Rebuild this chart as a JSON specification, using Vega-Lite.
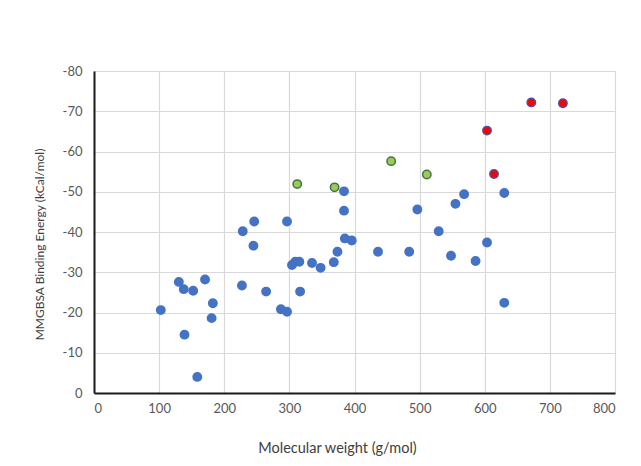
{
  "$schema": "https://vega.github.io/schema/vega-lite/v6.json",
  "width": 521,
  "height": 322,
  "autosize": {"type": "none"},
  "padding": {"left": 94, "top": 71, "right": 26, "bottom": 73},
  "background": "white",
  "config": {
    "font": "Lato",
    "view": {"stroke": "#d9d9d9", "strokeWidth": 1},
    "axis": {"gridColor": "#d9d9d9", "gridWidth": 1.2, "ticks": false, "labelColor": "#595959", "titleColor": "#404040", "labelFont": "Lato", "titleFont": "Lato", "labelFontSize": 13, "titleFontSize": 14.5, "titleFontWeight": "normal"}
  },
  "data": {
    "values": [
      {"mw": 102.6, "energy": -20.6, "group": "other"},
      {"mw": 130.3, "energy": -27.6, "group": "other"},
      {"mw": 137.8, "energy": -25.8, "group": "other"},
      {"mw": 152.3, "energy": -25.4, "group": "other"},
      {"mw": 139.0, "energy": -14.5, "group": "other"},
      {"mw": 170.5, "energy": -28.2, "group": "other"},
      {"mw": 182.5, "energy": -22.3, "group": "other"},
      {"mw": 180.6, "energy": -18.6, "group": "other"},
      {"mw": 158.6, "energy": -4.0, "group": "other"},
      {"mw": 228.4, "energy": -40.2, "group": "other"},
      {"mw": 246.0, "energy": -42.6, "group": "other"},
      {"mw": 244.8, "energy": -36.6, "group": "other"},
      {"mw": 227.2, "energy": -26.7, "group": "other"},
      {"mw": 264.3, "energy": -25.2, "group": "other"},
      {"mw": 296.4, "energy": -42.6, "group": "other"},
      {"mw": 287.0, "energy": -20.8, "group": "other"},
      {"mw": 296.4, "energy": -20.2, "group": "other"},
      {"mw": 304.0, "energy": -31.8, "group": "other"},
      {"mw": 309.0, "energy": -32.6, "group": "other"},
      {"mw": 315.3, "energy": -32.6, "group": "other"},
      {"mw": 316.5, "energy": -25.2, "group": "other"},
      {"mw": 334.8, "energy": -32.3, "group": "other"},
      {"mw": 348.0, "energy": -31.1, "group": "other"},
      {"mw": 368.2, "energy": -32.5, "group": "other"},
      {"mw": 373.8, "energy": -35.1, "group": "other"},
      {"mw": 383.9, "energy": -50.1, "group": "other"},
      {"mw": 383.9, "energy": -45.3, "group": "other"},
      {"mw": 385.2, "energy": -38.4, "group": "other"},
      {"mw": 395.8, "energy": -37.9, "group": "other"},
      {"mw": 436.1, "energy": -35.1, "group": "other"},
      {"mw": 484.0, "energy": -35.1, "group": "other"},
      {"mw": 496.5, "energy": -45.6, "group": "other"},
      {"mw": 529.3, "energy": -40.2, "group": "other"},
      {"mw": 548.2, "energy": -34.1, "group": "other"},
      {"mw": 555.0, "energy": -47.0, "group": "other"},
      {"mw": 568.3, "energy": -49.4, "group": "other"},
      {"mw": 585.9, "energy": -32.8, "group": "other"},
      {"mw": 603.5, "energy": -37.4, "group": "other"},
      {"mw": 630.0, "energy": -49.7, "group": "other"},
      {"mw": 630.0, "energy": -22.4, "group": "other"},
      {"mw": 312.1, "energy": -51.9, "group": "green"},
      {"mw": 369.4, "energy": -51.1, "group": "green"},
      {"mw": 456.3, "energy": -57.6, "group": "green"},
      {"mw": 511.0, "energy": -54.3, "group": "green"},
      {"mw": 603.5, "energy": -65.2, "group": "red"},
      {"mw": 614.2, "energy": -54.4, "group": "red"},
      {"mw": 671.5, "energy": -72.2, "group": "red"},
      {"mw": 720.0, "energy": -72.0, "group": "red"}
    ]
  },
  "mark": {"type": "point", "filled": true, "opacity": 1, "size": 70, "strokeWidth": 1.5},
  "encoding": {
    "x": {
      "field": "mw", "type": "quantitative",
      "scale": {"domain": [0, 800], "nice": false, "zero": false},
      "axis": {"values": [0,100,200,300,400,500,600,700,800], "title": "Molecular weight (g/mol)", "domain": true, "domainColor": "#1a1a1a", "domainWidth": 2, "labelPadding": 9, "titleX": 243, "titleY": 55, "titleBaseline": "middle", "titleAnchor": "middle", "titleAlign": "center"}
    },
    "y": {
      "field": "energy", "type": "quantitative",
      "scale": {"domain": [0, -80], "nice": false, "zero": false},
      "axis": {"values": [0,-10,-20,-30,-40,-50,-60,-70,-80], "labelExpr": "'' + datum.value", "title": "MMGBSA Binding Energy (kCal/mol)", "titleFont": "Liberation Sans Narrow, Lato", "titleFontSize": 12, "domain": true, "domainColor": "#1a1a1a", "domainWidth": 2, "labelPadding": 12, "titleX": -55, "titleY": 173, "titleBaseline": "middle", "titleAlign": "center", "titleAngle": -90}
    },
    "fill": {
      "field": "group", "type": "nominal", "legend": null,
      "scale": {"domain": ["other", "green", "red"], "range": ["#4472C4", "#92D050", "#FF0000"]}
    },
    "stroke": {
      "field": "group", "type": "nominal", "legend": null,
      "scale": {"domain": ["other", "green", "red"], "range": ["#4472C4", "#4f6a55", "#4a4f9a"]}
    }
  }
}
